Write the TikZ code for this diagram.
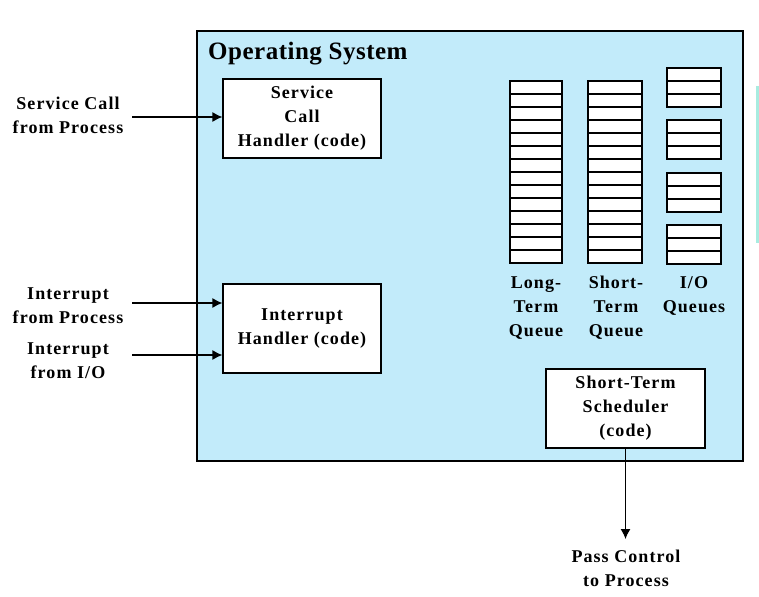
\documentclass[tikz,border=0pt]{standalone}
\usepackage{fontspec}
\setmainfont{Liberation Serif}
\newfontfamily\wideserif[LetterSpace=6]{Liberation Serif}
\newfontfamily\titleserif[LetterSpace=2]{Liberation Serif}
\usepackage{tikz}
\usetikzlibrary{arrows.meta}

\definecolor{osblue}{RGB}{194,235,250}
\definecolor{edgeteal}{RGB}{168,236,224}

\tikzset{
	handler/.style={shape=rectangle,draw=black,fill=white,line width=1.2pt,align=center,
		font=\wideserif\bfseries\fontsize{18}{24}\selectfont},
	lbl/.style={align=center,inner sep=0pt,font=\wideserif\bfseries\fontsize{18}{24}\selectfont},
	cell/.style={draw=black,fill=white,line width=1.2pt},
	feed/.style={-{Latex[length=10pt,width=10pt]},line width=1.2pt}
}

\begin{document}
\begin{tikzpicture}[x=1pt,y=-1pt]
	
	\useasboundingbox (0,0) rectangle (759,596);
	
	% operating system area
	\draw[fill=osblue,line width=1.2pt] (197,31) rectangle (743,461);
	\fill[edgeteal] (756,86) rectangle (759,243);
	\node[anchor=west,inner sep=0pt,font=\titleserif\bfseries\fontsize{25}{30}\selectfont] (os) at (208,54) {Operating System};
	
	% handlers
	\node[handler,minimum width=158pt,minimum height=79pt] (sch) at (302,118.5) {Service\\Call\\Handler (code)};
	\node[handler,minimum width=158pt,minimum height=89pt] (ih)  at (302,328.5) {Interrupt\\Handler (code)};
	\node[handler,minimum width=159pt,minimum height=79pt] (sts) at (625.5,408.5) {Short-Term\\Scheduler\\(code)};
	
	% queues
	\foreach \i in {0,...,13} {
		\draw[cell] (510,81+13*\i) rectangle +(52,13);
		\draw[cell] (588,81+13*\i) rectangle +(54,13);
	}
	\foreach \t in {68,120,173,225}
		\foreach \i in {0,1,2}
			\draw[cell] (667,\t+13*\i) rectangle +(54,13);
	
	\node[lbl] (ltq) at (536,308) {Long-\\Term\\Queue};
	\node[lbl] (stq) at (616,308) {Short-\\Term\\Queue};
	\node[lbl] (ioq) at (694,296) {I/O\\Queues};
	
	% outside labels
	\node[lbl] (scp) at (68,115) {Service Call\\from Process};
	\node[lbl] (ifp) at (68,306) {Interrupt\\from Process};
	\node[lbl] (ifio) at (68,361) {Interrupt\\from I/O};
	\node[lbl] (pcp) at (626,568) {Pass Control\\to Process};
	
	\coordinate (scp-out) at (132,117);
	\coordinate (ifp-out) at (132,303);
	\coordinate (ifio-out) at (132,355);
	\coordinate (pcp-in) at (625.5,539);
	
	\path[feed] (scp-out) edge (sch.west |- scp-out);
	\path[feed] (ifp-out) edge (ih.west |- ifp-out);
	\path[feed] (ifio-out) edge (ih.west |- ifio-out);
	\path[feed] (sts.south) edge (pcp-in);
	
\end{tikzpicture}
\end{document}
